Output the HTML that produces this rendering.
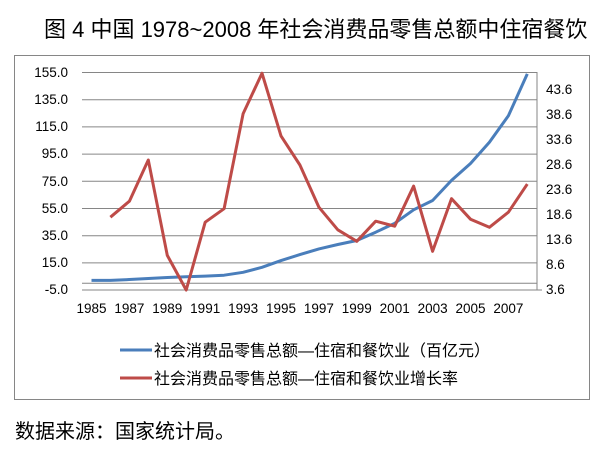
<!DOCTYPE html>
<html><head><meta charset="utf-8"><style>
body{margin:0;background:#fff;width:604px;height:450px;overflow:hidden}
svg{display:block}
text{font-family:"Liberation Sans","Noto Sans CJK SC",sans-serif;fill:#000}
</style></head><body>
<svg width="604" height="450" viewBox="0 0 604 450">
<text x="44" y="37" font-size="22">图 4 中国 1978~2008 年社会消费品零售总额中住宿餐饮</text>
<rect x="14.5" y="55.5" width="575" height="344" fill="none" stroke="#868686" stroke-width="1"/>
<g stroke="#868686" stroke-width="1">
<line x1="82" y1="72.5" x2="537" y2="72.5"/>
<line x1="82" y1="99.7" x2="537" y2="99.7"/>
<line x1="82" y1="126.9" x2="537" y2="126.9"/>
<line x1="82" y1="154.1" x2="537" y2="154.1"/>
<line x1="82" y1="181.3" x2="537" y2="181.3"/>
<line x1="82" y1="208.5" x2="537" y2="208.5"/>
<line x1="82" y1="235.7" x2="537" y2="235.7"/>
<line x1="82" y1="262.9" x2="537" y2="262.9"/>
<line x1="82" y1="290" x2="537" y2="290"/>
<line x1="82" y1="283.3" x2="537" y2="283.3"/>
<line x1="537" y1="72" x2="537" y2="290"/>
<line x1="537" y1="290" x2="542" y2="290"/>
</g>
<g font-size="13.5" text-anchor="end">
<text x="68" y="77">155.0</text><text x="68" y="104">135.0</text><text x="68" y="131">115.0</text>
<text x="68" y="158">95.0</text><text x="68" y="186">75.0</text><text x="68" y="213">55.0</text>
<text x="68" y="240">35.0</text><text x="68" y="267">15.0</text><text x="68" y="294">-5.0</text>
</g>
<g font-size="13.5">
<text x="546" y="94">43.6</text><text x="546" y="119">38.6</text><text x="546" y="144">33.6</text>
<text x="546" y="169">28.6</text><text x="546" y="194">23.6</text><text x="546" y="219">18.6</text>
<text x="546" y="244">13.6</text><text x="546" y="269">8.6</text><text x="546" y="294">3.6</text>
</g>
<g font-size="13.5" text-anchor="middle">
<text x="91.5" y="313">1985</text><text x="129.4" y="313">1987</text><text x="167.3" y="313">1989</text>
<text x="205.2" y="313">1991</text><text x="243.1" y="313">1993</text><text x="281" y="313">1995</text>
<text x="318.9" y="313">1997</text><text x="356.8" y="313">1999</text><text x="394.7" y="313">2001</text>
<text x="432.6" y="313">2003</text><text x="470.5" y="313">2005</text><text x="508.4" y="313">2007</text>
</g>
<polyline fill="none" stroke="#4a7ebb" stroke-width="3" stroke-linejoin="round" points="91.5,280.4 110.4,280.4 129.4,279.5 148.3,278.5 167.3,277.5 186.2,276.8 205.2,276.1 224.1,275.2 243.1,272.3 262,267.3 281,260.6 299.9,254.6 318.9,248.9 337.8,244.5 356.8,240.5 375.7,232.2 394.7,223.3 413.6,209.8 432.6,200.5 451.5,180.4 470.5,163.5 489.4,142.3 508.4,115.7 527.3,73.9"/>
<polyline fill="none" stroke="#be4b48" stroke-width="3" stroke-linejoin="round" points="110.4,217.2 129.4,201.2 148.3,160 167.3,255.4 186.2,290 205.2,222.2 224.1,208.7 243.1,113.8 262,73.2 281,135.9 299.9,165 318.9,207.2 337.8,229.8 356.8,241.3 375.7,221.2 394.7,226.2 413.6,186.1 432.6,251.3 451.5,198.7 470.5,219.2 489.4,227.3 508.4,212.2 527.3,184.1"/>
<line x1="120" y1="350" x2="152" y2="350" stroke="#4a7ebb" stroke-width="3"/>
<text x="154" y="356" font-size="16">社会消费品零售总额—住宿和餐饮业（百亿元）</text>
<line x1="120" y1="378" x2="152" y2="378" stroke="#be4b48" stroke-width="3"/>
<text x="154" y="384" font-size="16">社会消费品零售总额—住宿和餐饮业增长率</text>
<text x="15" y="438" font-size="20">数据来源：国家统计局。</text>
</svg>
</body></html>
